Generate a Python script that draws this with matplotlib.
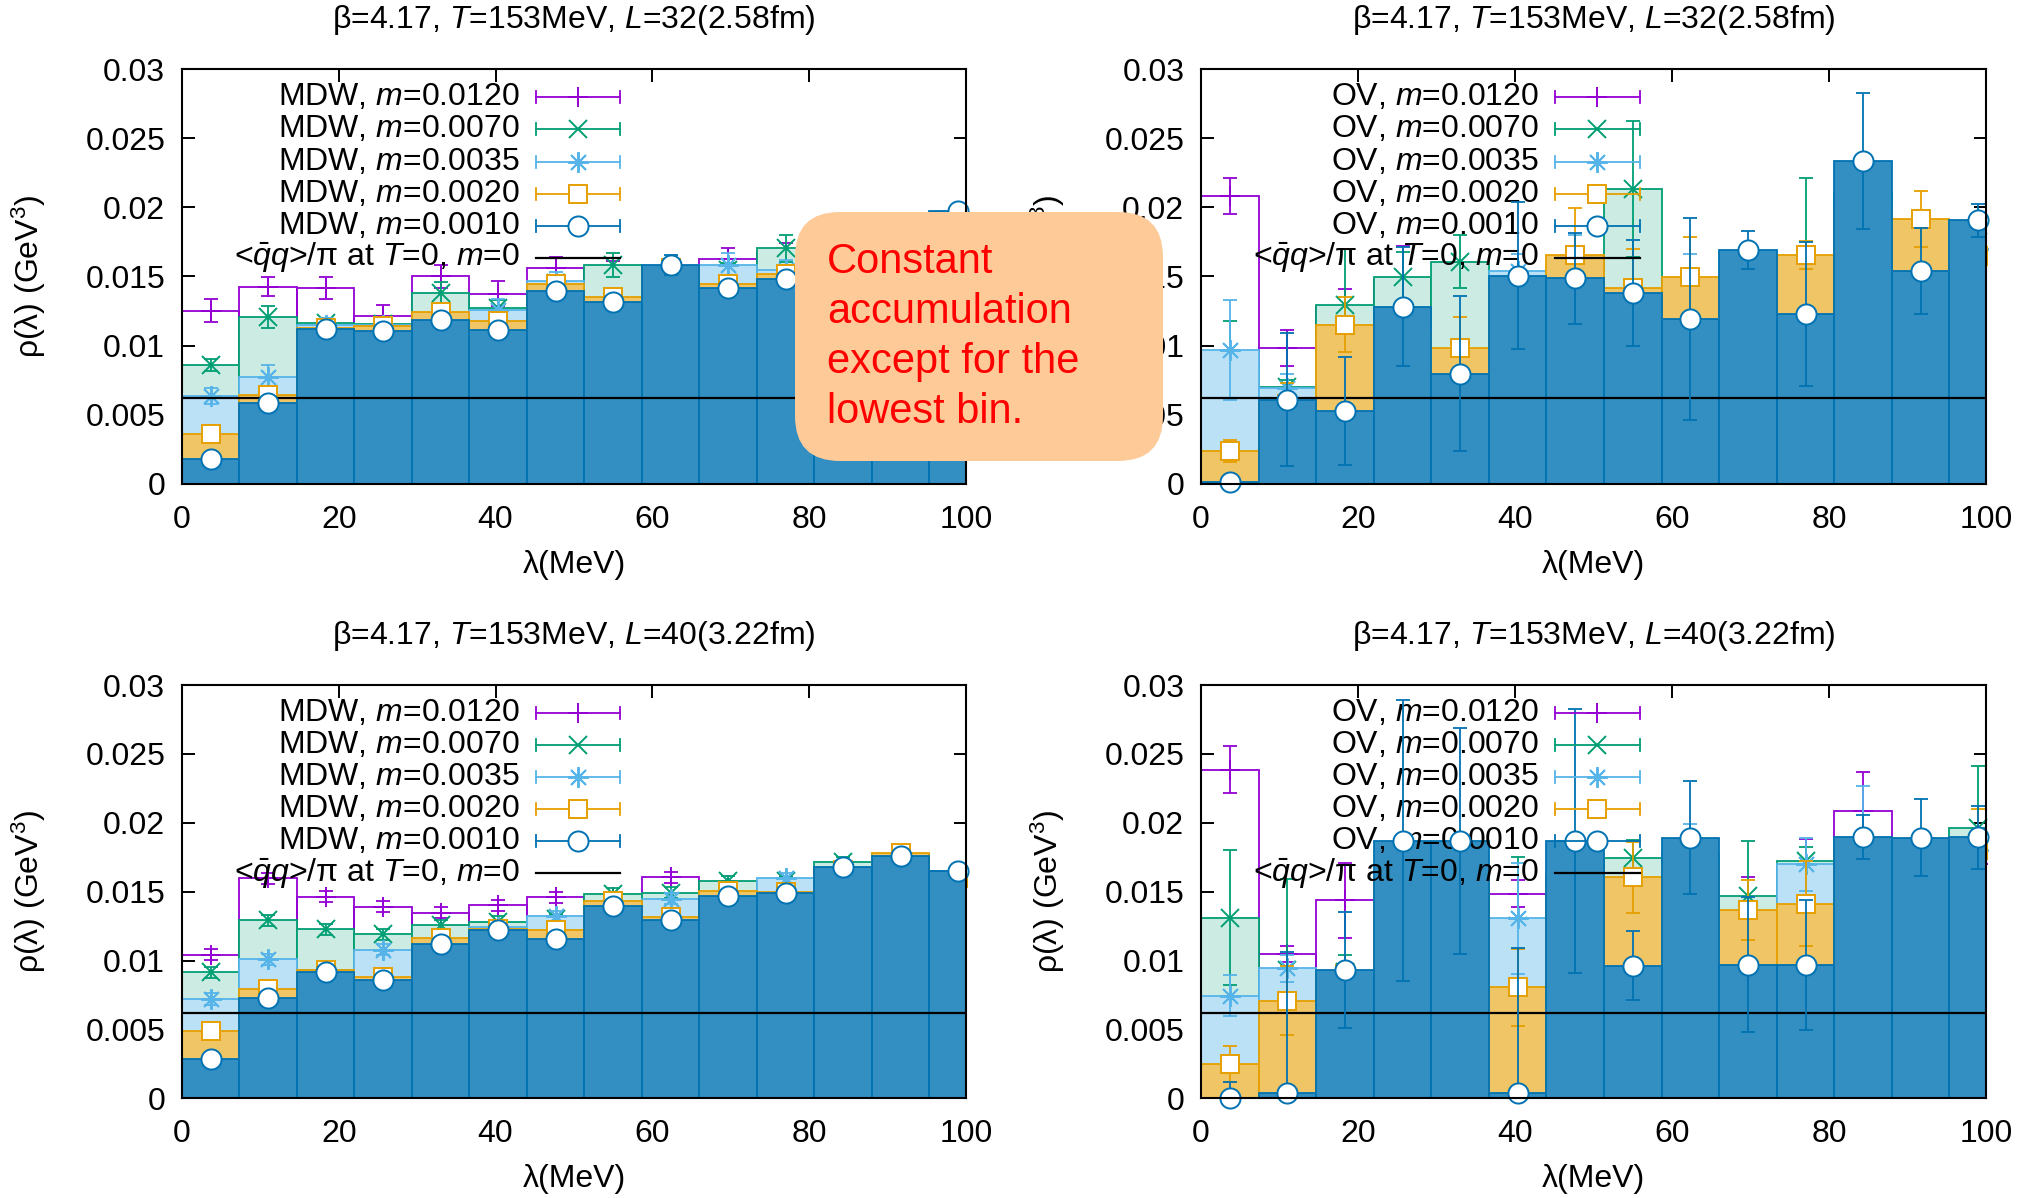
import matplotlib
matplotlib.use('Agg')
import matplotlib.pyplot as plt
from matplotlib.patches import FancyBboxPatch
from matplotlib.transforms import IdentityTransform
from matplotlib.ticker import FixedLocator, FixedFormatter

plt.rcParams['font.family'] = ['Liberation Sans', 'DejaVu Sans']
plt.rcParams['mathtext.fontset'] = 'custom'
plt.rcParams['mathtext.rm'] = 'Liberation Sans'
plt.rcParams['mathtext.it'] = 'Liberation Sans:italic'
plt.rcParams['mathtext.bf'] = 'Liberation Sans:bold'

# ---------------- data ----------------
lam = [3.67, 11.0, 18.33, 25.67, 33.0, 40.33, 47.67, 55.0, 62.33, 69.67, 77.0, 84.33, 91.67, 99.0]
bin_width = 7.33
masses = ['0.0120', '0.0070', '0.0035', '0.0020', '0.0010']
ref_level = 0.0062

# MDW, L=32
mdw32_m0120 = [0.01253, 0.01426, 0.01414, 0.01212, 0.01501, 0.01374, 0.01561, 0.0155, 0.0155, 0.01626, 0.0168, 0.0170, 0.0172, 0.0185]
mdw32_m0120_err = [0.00085, 0.0007, 0.0008, 0.0008, 0.00085, 0.0009, 0.0008, 0.0006, 0.0006, 0.0008, 0.0006, 0.0006, 0.0006, 0.0005]
mdw32_m0070 = [0.00861, 0.0121, 0.01162, 0.01155, 0.01381, 0.0127, 0.0145, 0.01583, 0.0156, 0.0155, 0.01703, 0.0168, 0.0170, 0.0186]
mdw32_m0070_err = [0.00045, 0.0008, 0.0004, 0.0003, 0.0008, 0.0006, 0.0005, 0.0009, 0.0005, 0.0005, 0.0010, 0.0006, 0.0006, 0.0005]
mdw32_m0035 = [0.00635, 0.00777, 0.0115, 0.0115, 0.0122, 0.0126, 0.0147, 0.0134, 0.0157, 0.0158, 0.0155, 0.0165, 0.0168, 0.0187]
mdw32_m0035_err = [0.0006, 0.0008, 0.0005, 0.0004, 0.0006, 0.0008, 0.0006, 0.0005, 0.0005, 0.0009, 0.0007, 0.0006, 0.0006, 0.0005]
mdw32_m0020 = [0.00359, 0.0064, 0.0113, 0.0114, 0.0124, 0.0118, 0.01445, 0.0135, 0.0156, 0.01446, 0.0152, 0.0162, 0.0166, 0.0190]
mdw32_m0020_err = [0.0004, 0.0004, 0.0004, 0.0004, 0.0004, 0.0004, 0.0004, 0.0004, 0.0004, 0.0004, 0.0004, 0.0004, 0.0004, 0.0004]
mdw32_m0010 = [0.00183, 0.00585, 0.01121, 0.01104, 0.01188, 0.01116, 0.01393, 0.01313, 0.01583, 0.01417, 0.01482, 0.0158, 0.0163, 0.0197]
mdw32_m0010_err = [0.0003, 0.0003, 0.0004, 0.0004, 0.0004, 0.0004, 0.0004, 0.0004, 0.0007, 0.0004, 0.0004, 0.0004, 0.0004, 0.0003]

# OV, L=32
ov32_m0120 = [0.02083, 0.00984, 0.0128, 0.0148, 0.0140, 0.0140, 0.0135, 0.0130, 0.0110, 0.0150, 0.0150, 0.0200, 0.0160, 0.0170]
ov32_m0120_err = [0.0013, 0.0013, 0.0013, 0.0024, 0.0015, 0.0010, 0.0010, 0.0010, 0.0010, 0.0010, 0.0010, 0.0015, 0.0012, 0.0010]
ov32_m0070 = [0.0085, 0.0070, 0.01297, 0.01494, 0.01607, 0.0140, 0.0150, 0.02131, 0.0130, 0.0150, 0.0163, 0.0210, 0.0170, 0.0175]
ov32_m0070_err = [0.0033, 0.0005, 0.0040, 0.0018, 0.0019, 0.0008, 0.0010, 0.0049, 0.0010, 0.0010, 0.0058, 0.0015, 0.0012, 0.0010]
ov32_m0035 = [0.0097, 0.00695, 0.0105, 0.0115, 0.0090, 0.0154, 0.0155, 0.0130, 0.0140, 0.0150, 0.0150, 0.0200, 0.0165, 0.0170]
ov32_m0035_err = [0.0036, 0.0010, 0.0008, 0.0010, 0.0007, 0.0012, 0.0025, 0.0008, 0.0026, 0.0010, 0.0010, 0.0015, 0.0012, 0.0010]
ov32_m0020 = [0.00236, 0.0058, 0.01152, 0.0110, 0.00984, 0.0140, 0.01655, 0.0142, 0.01494, 0.0150, 0.01657, 0.0200, 0.01915, 0.0165]
ov32_m0020_err = [0.0008, 0.0015, 0.0020, 0.0010, 0.0022, 0.0010, 0.0034, 0.0028, 0.0029, 0.0010, 0.0010, 0.0015, 0.0020, 0.0012]
ov32_m0010 = [0.00015, 0.0061, 0.00525, 0.01282, 0.00796, 0.01506, 0.01486, 0.01381, 0.01193, 0.01691, 0.01229, 0.02336, 0.01542, 0.01907]
ov32_m0010_err = [0.0003, 0.0048, 0.0039, 0.0043, 0.0056, 0.0053, 0.0033, 0.0038, 0.0073, 0.0014, 0.0052, 0.0049, 0.0031, 0.0012]

# MDW, L=40
mdw40_m0120 = [0.01041, 0.01599, 0.01462, 0.0139, 0.01346, 0.0140, 0.01459, 0.0146, 0.01606, 0.0155, 0.0158, 0.0168, 0.0175, 0.0162]
mdw40_m0120_err = [0.0004, 0.0004, 0.0004, 0.0004, 0.0004, 0.0004, 0.0004, 0.0003, 0.0004, 0.0003, 0.0003, 0.0003, 0.0003, 0.0003]
mdw40_m0070 = [0.00914, 0.01294, 0.01226, 0.0119, 0.01255, 0.01281, 0.0130, 0.01484, 0.01491, 0.01575, 0.0158, 0.01715, 0.0177, 0.0160]
mdw40_m0070_err = [0.0004, 0.0004, 0.0004, 0.0004, 0.0004, 0.0004, 0.0004, 0.0004, 0.0004, 0.0004, 0.0003, 0.0004, 0.0003, 0.0003]
mdw40_m0035 = [0.00721, 0.0101, 0.0093, 0.01077, 0.0115, 0.0124, 0.01322, 0.0142, 0.0145, 0.0150, 0.01599, 0.0166, 0.0176, 0.0165]
mdw40_m0035_err = [0.0004, 0.0004, 0.0003, 0.0004, 0.0004, 0.0004, 0.0004, 0.0003, 0.0004, 0.0003, 0.0004, 0.0003, 0.0003, 0.0003]
mdw40_m0020 = [0.00486, 0.00794, 0.00932, 0.00882, 0.01166, 0.0123, 0.01219, 0.0143, 0.01315, 0.01503, 0.0150, 0.0166, 0.01784, 0.0160]
mdw40_m0020_err = [0.0004, 0.0004, 0.0004, 0.0004, 0.0004, 0.0004, 0.0004, 0.0004, 0.0004, 0.0004, 0.0004, 0.0004, 0.0004, 0.0004]
mdw40_m0010 = [0.00284, 0.00726, 0.00914, 0.00858, 0.01123, 0.01219, 0.01154, 0.01395, 0.01291, 0.01472, 0.01491, 0.01676, 0.0176, 0.01652]
mdw40_m0010_err = [0.0003, 0.0004, 0.0004, 0.0004, 0.0004, 0.0004, 0.0004, 0.0004, 0.0004, 0.0004, 0.0004, 0.0004, 0.0004, 0.0004]

# OV, L=40
ov40_m0120 = [0.02385, 0.01046, 0.01436, 0.0160, 0.0160, 0.01486, 0.0160, 0.0150, 0.0160, 0.0140, 0.0165, 0.02087, 0.0170, 0.0170]
ov40_m0120_err = [0.0017, 0.0006, 0.0027, 0.0015, 0.0015, 0.0010, 0.0015, 0.0010, 0.0010, 0.0021, 0.0023, 0.0028, 0.0010, 0.0010]
ov40_m0070 = [0.0131, 0.0093, 0.0092, 0.0160, 0.0160, 0.0125, 0.0160, 0.01748, 0.0165, 0.01467, 0.01724, 0.0180, 0.0175, 0.01965]
ov40_m0070_err = [0.0049, 0.0066, 0.0012, 0.0015, 0.0015, 0.0050, 0.0015, 0.0013, 0.0010, 0.0040, 0.0010, 0.0010, 0.0010, 0.0045]
ov40_m0035 = [0.00745, 0.00943, 0.0088, 0.0160, 0.0160, 0.01306, 0.0160, 0.0155, 0.0178, 0.0130, 0.01698, 0.0187, 0.0175, 0.0180]
ov40_m0035_err = [0.0015, 0.0010, 0.0004, 0.0015, 0.0015, 0.0040, 0.0015, 0.0010, 0.0021, 0.0005, 0.0019, 0.0040, 0.0010, 0.0010]
ov40_m0020 = [0.00252, 0.00709, 0.0090, 0.0160, 0.0160, 0.00805, 0.0160, 0.01604, 0.0170, 0.01366, 0.01414, 0.0180, 0.0175, 0.0180]
ov40_m0020_err = [0.0013, 0.0025, 0.0003, 0.0015, 0.0015, 0.0028, 0.0015, 0.0026, 0.0010, 0.0022, 0.0031, 0.0010, 0.0010, 0.0030]
ov40_m0010 = [0.00005, 0.0004, 0.00933, 0.01869, 0.01869, 0.0004, 0.01869, 0.00962, 0.01893, 0.00969, 0.00969, 0.0190, 0.01893, 0.01895]
ov40_m0010_err = [0.0011, 0.0102, 0.0042, 0.0102, 0.0082, 0.0105, 0.0096, 0.0025, 0.0041, 0.0049, 0.0047, 0.0016, 0.0028, 0.0023]

yticks = [0, 0.005, 0.01, 0.015, 0.02, 0.025, 0.03]
ytick_labels = ['0', '0.005', '0.01', '0.015', '0.02', '0.025', '0.03']
xticks = [0, 20, 40, 60, 80, 100]
xtick_labels = ['0', '20', '40', '60', '80', '100']

# ---------------- style ----------------
line_colors = ['#9400D3', '#009E73', '#56B4E9', '#E69F00', '#0072B2']
fill_colors = [None, '#CCECE3', '#BBE1F6', '#F0C566', '#338EC1']
markers = ['+', 'x', (8, 2, 0), 's', 'o']
marker_faces = ['none', 'none', 'none', 'white', 'white']
marker_sizes = [14, 13, 15, 13, 14.5]

FS = 23

fig = plt.figure(figsize=(20.37, 11.98), dpi=100)

panels = [
    ([0.0893, 0.5960, 0.3849, 0.3464], 'MDW', '32(2.58fm)',
     [mdw32_m0120, mdw32_m0070, mdw32_m0035, mdw32_m0020, mdw32_m0010],
     [mdw32_m0120_err, mdw32_m0070_err, mdw32_m0035_err, mdw32_m0020_err, mdw32_m0010_err]),
    ([0.5896, 0.5960, 0.3854, 0.3464], 'OV', '32(2.58fm)',
     [ov32_m0120, ov32_m0070, ov32_m0035, ov32_m0020, ov32_m0010],
     [ov32_m0120_err, ov32_m0070_err, ov32_m0035_err, ov32_m0020_err, ov32_m0010_err]),
    ([0.0893, 0.0832, 0.3849, 0.3450], 'MDW', '40(3.22fm)',
     [mdw40_m0120, mdw40_m0070, mdw40_m0035, mdw40_m0020, mdw40_m0010],
     [mdw40_m0120_err, mdw40_m0070_err, mdw40_m0035_err, mdw40_m0020_err, mdw40_m0010_err]),
    ([0.5896, 0.0832, 0.3854, 0.3450], 'OV', '40(3.22fm)',
     [ov40_m0120, ov40_m0070, ov40_m0035, ov40_m0020, ov40_m0010],
     [ov40_m0120_err, ov40_m0070_err, ov40_m0035_err, ov40_m0020_err, ov40_m0010_err]),
]

for rect, action, lsize, vals, errs in panels:
    ax = fig.add_axes(rect)
    ax.set_xlim(0, 100)
    ax.set_ylim(0, 0.03)
    for i in range(5):
        zb = 2 + 3 * i
        if fill_colors[i] is None:
            ax.bar(lam, vals[i], width=bin_width, facecolor='none', edgecolor=line_colors[i],
                   linewidth=1.3, zorder=zb)
        else:
            ax.bar(lam, vals[i], width=bin_width, facecolor=fill_colors[i], edgecolor=line_colors[i],
                   linewidth=1.3, zorder=zb)
        ax.errorbar(lam, vals[i], yerr=errs[i], fmt='none', ecolor=line_colors[i],
                    elinewidth=1.3, capsize=5, capthick=1.3, zorder=zb + 1)
        ax.plot(lam, vals[i], linestyle='none', marker=markers[i], markersize=marker_sizes[i],
                markerfacecolor=marker_faces[i], markeredgecolor=line_colors[i],
                markeredgewidth=1.4, zorder=zb + 2, clip_on=False)
    ax.axhline(ref_level, color='black', linewidth=1.6, zorder=14.8)

    # legend (gnuplot style: text right, sample left)
    tx = 0.431
    sx0, sx1 = 0.451, 0.559
    cap = 0.0145
    for i in range(5):
        y = 0.932 - 0.0776 * i
        ax.text(tx, y, f'{action}, $m$={masses[i]}', transform=ax.transAxes, ha='right',
                va='center', fontsize=FS, zorder=14.5)
        ax.plot([sx0, sx1], [y, y], transform=ax.transAxes, color=line_colors[i], lw=1.3,
                zorder=17, clip_on=False)
        for sx in (sx0, sx1):
            ax.plot([sx, sx], [y - cap, y + cap], transform=ax.transAxes, color=line_colors[i],
                    lw=1.3, zorder=17, clip_on=False)
        ax.plot([(sx0 + sx1) / 2], [y], transform=ax.transAxes, marker=markers[i],
                markersize=marker_sizes[i], markerfacecolor=marker_faces[i],
                markeredgecolor=line_colors[i], markeredgewidth=1.4, zorder=17, clip_on=False)
    y = 0.932 - 0.0776 * 5
    ax.text(tx, y, r'<$\bar{q}q$>/π at $T$=0, $m$=0', transform=ax.transAxes, ha='right',
            va='center', fontsize=FS, zorder=14.5)
    ax.plot([sx0, sx1], [y, y], transform=ax.transAxes, color='black', lw=1.6, zorder=17,
            clip_on=False)

    ax.xaxis.set_major_locator(FixedLocator(xticks))
    ax.xaxis.set_major_formatter(FixedFormatter(xtick_labels))
    ax.yaxis.set_major_locator(FixedLocator(yticks))
    ax.yaxis.set_major_formatter(FixedFormatter(ytick_labels))
    ax.tick_params(direction='in', length=9, width=1.4, top=True, right=True,
                   labelsize=FS, colors='black')
    ax.tick_params(axis='y', pad=12)
    ax.tick_params(axis='x', pad=15)
    for sp in ax.spines.values():
        sp.set_linewidth(1.5)
        sp.set_zorder(30)

    ax.text(0.5, 1.118, r'β=4.17, $T$=153MeV, $L$=' + lsize, transform=ax.transAxes,
            ha='center', va='center', fontsize=FS)
    ax.text(0.5, -0.195, 'λ(MeV)', transform=ax.transAxes, ha='center', va='center',
            fontsize=FS)
    ax.text(-0.195, 0.5, r'ρ(λ) (GeV$^3$)', transform=ax.transAxes, ha='center',
            va='center', rotation=90, fontsize=FS)

# annotation box (pixel coordinates)
box = FancyBboxPatch((795, 1198 - 461), 368, 249, boxstyle='round,pad=0,rounding_size=45',
                     transform=IdentityTransform(), facecolor='#FDCA98', edgecolor='none',
                     zorder=100)
fig.add_artist(box)
fig.text(827 / 2037, 1 - 337 / 1198, 'Constant\naccumulation\nexcept for the\nlowest bin.',
         color='#FF0000', fontsize=30, ha='left', va='center', linespacing=1.33, zorder=101)

fig.savefig('out.png', dpi=100)
